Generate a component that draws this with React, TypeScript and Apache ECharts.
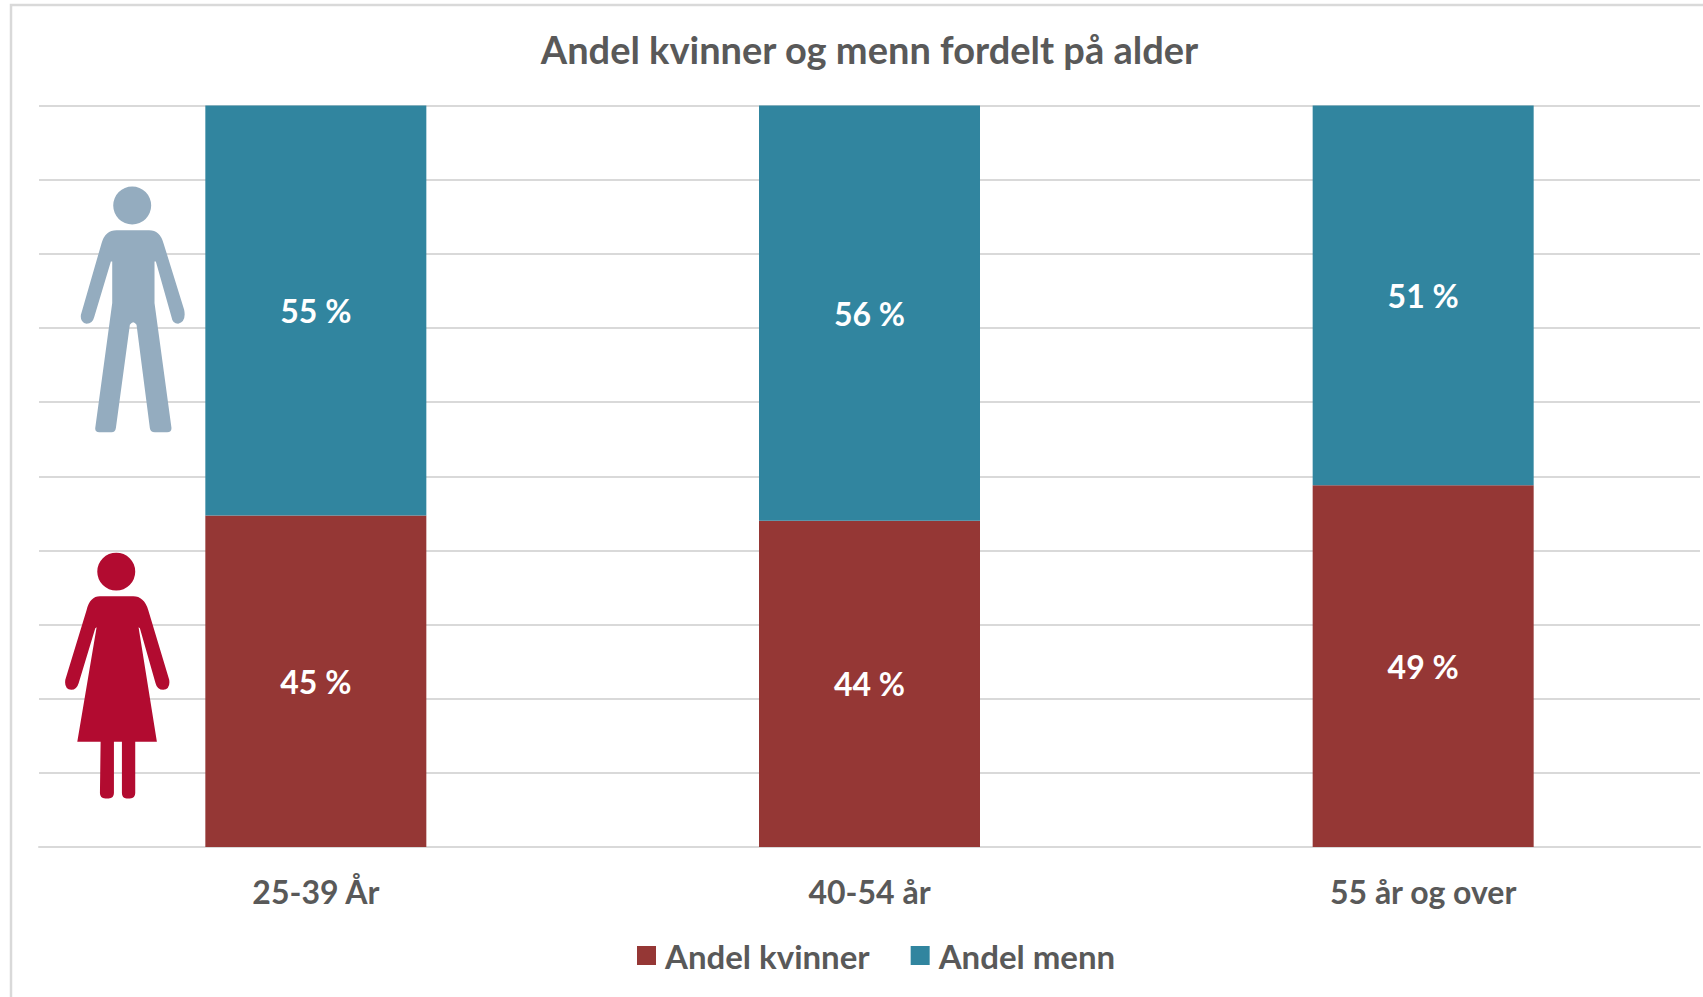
import React, { useEffect, useRef } from "react";
import * as echarts from "echarts";

const categories = ["25-39 År", "40-54 år", "55 år og over"];
const kvinner = [44.7, 44, 48.8];
const menn = [55.3, 56, 51.2];
const axisTicks = { min: 0, max: 100, interval: 10 };
const FONT = "Lato, 'Open Sans', sans-serif";

const MAN_D =
  "M340 377 A57 57 0 1 1 454 377 A57 57 0 1 1 340 377 Z " +
  "M350 451 L448 451 Q480 451 491 490 L553 690 Q560 725 535 732 Q518 732 515 712 L468 545 L464 545 L464 670 L515 1045 Q515 1058 502 1058 L465 1058 Q452 1058 450 1045 L410 735 Q400 720 390 735 L348 1045 Q346 1058 335 1058 L298 1058 Q285 1058 286 1045 L337 670 L337 545 L333 545 L283 712 Q278 732 260 732 Q240 728 243 705 L305 490 Q316 451 350 451 Z";
const WOMAN_D =
  "M172 125 A57 57 0 1 1 286 125 A57 57 0 1 1 172 125 Z " +
  "M180 199 L280 199 Q312 199 325 240 L388 450 Q392 478 370 480 Q352 480 347 460 L300 295 L296 292 L351 636 L286 636 L286 790 Q286 806 270 806 L260 806 Q246 806 246 790 L246 636 L222 636 L222 790 Q222 806 206 806 L196 806 Q180 806 180 790 L182 636 L112 636 L170 292 L166 295 L116 460 Q110 480 94 480 Q72 478 76 450 L140 240 Q150 199 180 199 Z";

echarts.graphic.registerShape("manIcon", echarts.graphic.extendPath(MAN_D as any, {}) as any);
echarts.graphic.registerShape("womanIcon", echarts.graphic.extendPath(WOMAN_D as any, {}) as any);

export default function App() {
  const ref = useRef<HTMLDivElement>(null);
  useEffect(() => {
    document.body.style.margin = "0";
    const chart = echarts.init(ref.current!, null, { renderer: "svg" });
    const label = {
      show: true,
      position: "inside" as const,
      color: "#fff",
      fontFamily: FONT,
      fontWeight: "bold" as const,
      fontSize: 32,
      formatter: (p: any) => `${Math.round(p.value)} %`,
    };
    chart.setOption({
      animation: false,
      backgroundColor: "#fff",
      title: {
        text: "Andel kvinner og menn fordelt på alder",
        left: 864.5,
        top: 25,
        textAlign: "center",
        textStyle: { color: "#595959", fontFamily: FONT, fontWeight: "bold", fontSize: 38 },
      },
      legend: {
        left: 632,
        top: 934,
        itemWidth: 19,
        itemHeight: 19,
        itemGap: 41,
        icon: "rect",
        selectedMode: false,
        data: ["Andel kvinner", "Andel menn"],
        textStyle: { color: "#595959", fontFamily: FONT, fontWeight: "bold", fontSize: 33, padding: [0, 0, 0, 4] },
      },
      grid: { left: 39, top: 105.5, width: 1661, height: 741.5 },
      xAxis: {
        type: "category",
        data: categories,
        axisTick: { show: false },
        axisLine: { lineStyle: { color: "#d9d9d9", width: 2 } },
        axisLabel: { color: "#595959", fontFamily: FONT, fontWeight: "bold", fontSize: 32, margin: 28 },
      },
      yAxis: {
        type: "value",
        ...axisTicks,
        axisLabel: { show: false },
        axisLine: { show: false },
        axisTick: { show: false },
        splitLine: { lineStyle: { color: "#d9d9d9", width: 2 } },
      },
      series: [
        { name: "Andel kvinner", type: "bar", stack: "a", data: kvinner, barWidth: 221, itemStyle: { color: "#953735" }, label },
        { name: "Andel menn", type: "bar", stack: "a", data: menn, itemStyle: { color: "#31859F" }, label },
      ],
      graphic: [
        { type: "polyline", z: 100, silent: true, shape: { points: [[11, 997], [11, 5], [1703, 5]] }, style: { stroke: "#d9d9d9", lineWidth: 2.5, fill: "none" } },
        { type: "manIcon", z: 100, x: 0, y: 80, scaleX: 1 / 3, scaleY: 1 / 3, silent: true, style: { fill: "#94ACBF" } },
        { type: "womanIcon", z: 100, x: 40, y: 530, scaleX: 1 / 3, scaleY: 1 / 3, silent: true, style: { fill: "#B20B30" } },
      ],
    });
    return () => chart.dispose();
  }, []);
  return <div ref={ref} style={{ width: 1703, height: 997 }} />;
}
